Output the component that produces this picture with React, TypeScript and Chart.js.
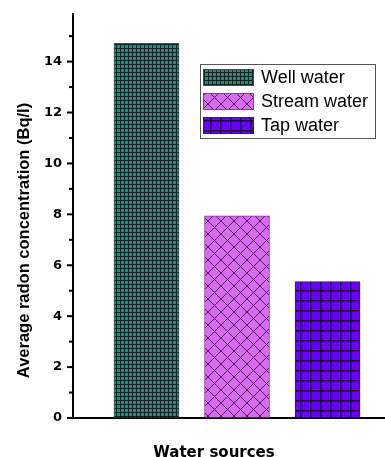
import React, { useEffect, useRef } from "react";
import { Chart, registerables } from "chart.js";

Chart.register(...registerables);

const categories = ["Well water", "Stream water", "Tap water"];
const positions = [1, 2, 3];
const values = [14.72, 7.94, 5.36];
const yTickValues = [0, 2, 4, 6, 8, 10, 12, 14];
const xTitle = "Water sources";
const yTitle = "Average radon concentration (Bq/l)";

function makePattern(kind: string): CanvasPattern | string {
  const c = document.createElement("canvas");
  const ctx = c.getContext("2d")!;
  if (kind === "well") {
    c.width = 4; c.height = 4;
    ctx.fillStyle = "#34847c";
    ctx.fillRect(0, 0, 4, 4);
    ctx.fillStyle = "#122523";
    ctx.fillRect(0, 0, 4, 1);
    ctx.fillRect(0, 0, 1, 4);
  } else if (kind === "stream") {
    c.width = 13; c.height = 13;
    ctx.fillStyle = "#d96bf2";
    ctx.fillRect(0, 0, 13, 13);
    ctx.strokeStyle = "#4a2052";
    ctx.lineWidth = 1;
    ctx.beginPath();
    ctx.moveTo(0, 0); ctx.lineTo(13, 13);
    ctx.moveTo(13, 0); ctx.lineTo(0, 13);
    ctx.stroke();
  } else {
    c.width = 10; c.height = 10;
    ctx.fillStyle = "#6a00ff";
    ctx.fillRect(0, 0, 10, 10);
    ctx.fillStyle = "#1a0033";
    ctx.fillRect(0, 0, 10, 1.5);
    ctx.fillRect(0, 0, 1.5, 10);
  }
  return ctx.createPattern(c, "repeat") || "#888";
}

export default function App() {
  const ref = useRef<HTMLCanvasElement | null>(null);
  useEffect(() => {
    document.body.style.margin = "0";
    const canvas = ref.current!;
    const patterns = [makePattern("well"), makePattern("stream"), makePattern("tap")];
    const borders = ["#4a4a4a", "#8a3a9a", "#3a1a66"];

    const decor = {
      id: "decor",
      afterDraw(chart: any) {
        const ctx = chart.ctx;
        const ys = chart.scales.y;
        const area = chart.chartArea;
        ctx.save();
        ctx.strokeStyle = "#000";
        ctx.lineWidth = 2;
        for (let v = 0; v <= Math.floor(ys.max); v++) {
          const py = ys.getPixelForValue(v);
          const len = v % 2 === 0 ? 6 : 4;
          ctx.beginPath();
          ctx.moveTo(area.left - len, py);
          ctx.lineTo(area.left, py);
          ctx.stroke();
        }
        ctx.fillStyle = "#000";
        ctx.font = "bold 16.5px 'Liberation Sans', Arial, sans-serif";
        ctx.textAlign = "center";
        ctx.textBaseline = "middle";
        ctx.save();
        ctx.translate(24, 240.5);
        ctx.rotate(-Math.PI / 2);
        ctx.fillText(yTitle, 0, 0);
        ctx.restore();
        ctx.font = "bold 15px 'DejaVu Sans', sans-serif";
        ctx.textBaseline = "alphabetic";
        ctx.fillText(xTitle, 214, 456.5);
        const lx = 200, ly = 64, lw = 175, lh = 74;
        ctx.fillStyle = "#fff";
        ctx.fillRect(lx, ly, lw, lh);
        ctx.strokeStyle = "#555";
        ctx.lineWidth = 1;
        ctx.strokeRect(lx + 0.5, ly + 0.5, lw, lh);
        ctx.font = "18px 'Liberation Sans', Arial, sans-serif";
        ctx.textAlign = "left";
        ctx.textBaseline = "middle";
        categories.forEach((name, i) => {
          const sy = 69 + i * 24;
          ctx.fillStyle = patterns[i] as any;
          ctx.fillRect(203, sy, 51, 17);
          ctx.strokeStyle = borders[i];
          ctx.strokeRect(203.5, sy + 0.5, 50, 16);
          ctx.fillStyle = "#000";
          ctx.fillText(name, 261, sy + 9);
        });
        ctx.restore();
      },
    };

    const chart = new Chart(canvas, {
      type: "bar",
      data: {
        datasets: [
          {
            label: "Radon",
            data: positions.map((x, i) => ({ x, y: values[i] })),
            backgroundColor: patterns as any,
            borderColor: borders,
            borderWidth: 1,
            barThickness: 65,
          },
        ],
      },
      options: {
        responsive: false,
        animation: false,
        layout: { padding: { top: 14, left: 0, right: 0, bottom: 0 } },
        plugins: { legend: { display: false }, tooltip: { enabled: false } },
        scales: {
          x: {
            type: "linear",
            offset: false,
            min: 0.188,
            max: 3.635,
            ticks: { display: false },
            grid: { display: false, offset: false },
            border: { display: true, color: "#000", width: 2 },
            afterFit: (s: any) => { s.height = 39; },
          },
          y: {
            type: "linear",
            min: 0,
            max: 15.87,
            afterBuildTicks: (s: any) => {
              s.ticks = yTickValues.map((v) => ({ value: v }));
            },
            ticks: {
              autoSkip: false,
              padding: 0,
              color: "#000",
              font: { family: "'DejaVu Sans', sans-serif", size: 13, weight: "bold" },
            },
            grid: {
              display: true,
              drawOnChartArea: false,
              drawTicks: true,
              tickLength: 11,
              tickColor: "rgba(0,0,0,0)",
            },
            border: { display: true, color: "#000", width: 2 },
            afterFit: (s: any) => { s.width = 73; },
          },
        },
      },
      plugins: [decor],
    });
    return () => chart.destroy();
  }, []);
  return (
    <div style={{ width: 385, height: 457 }}>
      <canvas ref={ref} width={385} height={457} />
    </div>
  );
}
